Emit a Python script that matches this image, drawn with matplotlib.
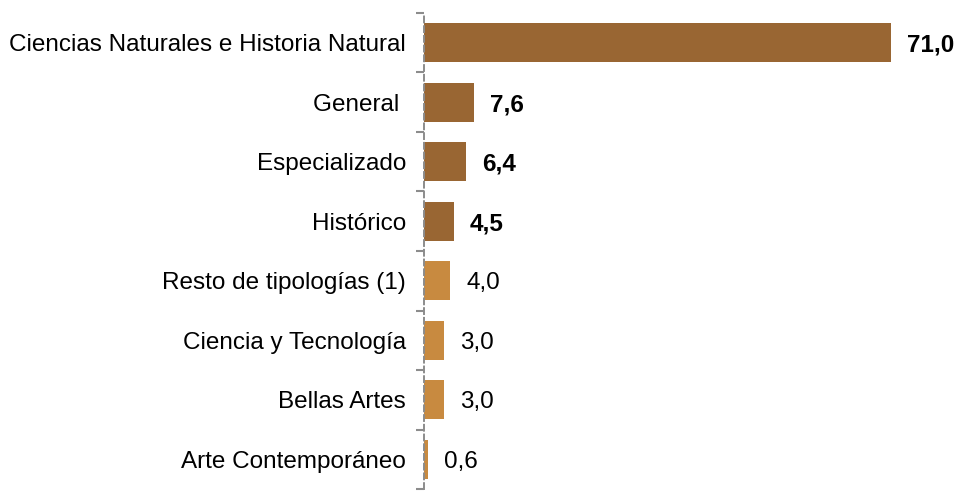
import matplotlib
matplotlib.use("Agg")
import matplotlib.pyplot as plt
from matplotlib.ticker import FixedLocator, NullLocator

categories = [
    "Ciencias Naturales e Historia Natural",
    "General ",
    "Especializado",
    "Histórico",
    "Resto de tipologías (1)",
    "Ciencia y Tecnología",
    "Bellas Artes",
    "Arte Contemporáneo",
]
values = [71.0, 7.6, 6.4, 4.5, 4.0, 3.0, 3.0, 0.6]
highlighted = [True, True, True, True, False, False, False, False]

DARK = "#996633"
LIGHT = "#C88A40"
FS = 17.5

plt.rcParams["font.family"] = ["Liberation Sans", "DejaVu Sans"]

fig = plt.figure(figsize=(9.56, 4.94), dpi=100)
ax = fig.add_axes([424 / 956, 1 - 489 / 494, 520 / 956, 476 / 494])

n = len(categories)
ypos = list(range(n))
colors = [DARK if h else LIGHT for h in highlighted]
ax.barh(ypos, values, height=0.65, color=colors, edgecolor="none")

ax.set_xlim(0, 79.06)
ax.set_ylim(n - 0.5, -0.5)

for i, (v, h) in enumerate(zip(values, highlighted)):
    ax.annotate(f"{v:.1f}".replace(".", ","), xy=(v, i), xytext=(11.5, 0),
                textcoords="offset points", ha="left", va="center_baseline",
                fontsize=FS, fontweight="bold" if h else "normal", color="black")

ax.set_yticks(ypos)
ax.set_yticklabels(categories, fontsize=FS, va="center_baseline")
ax.tick_params(axis="y", which="major", length=0, pad=13)
ax.yaxis.set_minor_locator(FixedLocator([i - 0.5 for i in range(n + 1)]))
ax.tick_params(axis="y", which="minor", length=5.5, width=1.5, color="#8c8c8c")
ax.xaxis.set_major_locator(NullLocator())

for s in ["top", "right", "bottom"]:
    ax.spines[s].set_visible(False)
ax.spines["left"].set_color("#8c8c8c")
ax.spines["left"].set_linewidth(1.4)
ax.spines["left"].set_linestyle((0, (3, 2)))

fig.savefig("out.png", dpi=100)
